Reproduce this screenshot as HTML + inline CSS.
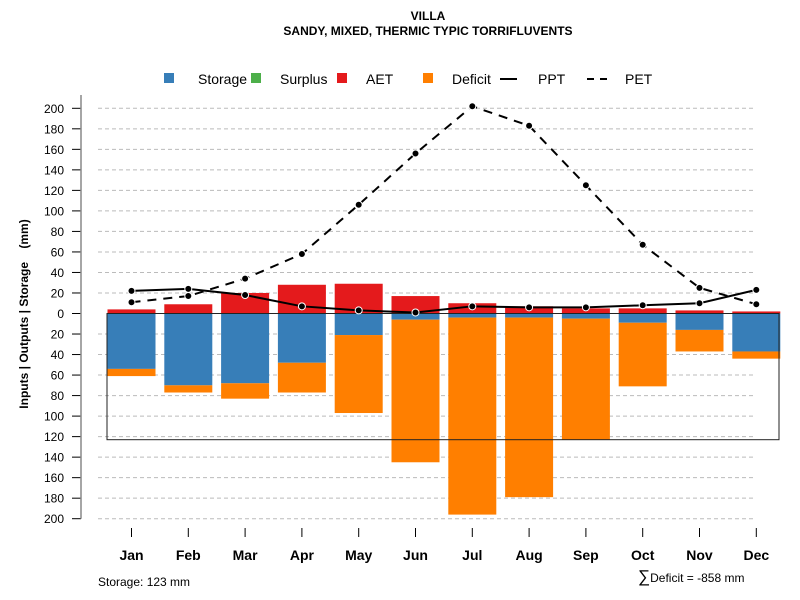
<!DOCTYPE html>
<html><head><meta charset="utf-8"><style>
html,body{margin:0;padding:0;background:#fff;}
svg{display:block;font-family:"Liberation Sans",Arial,sans-serif;}
</style></head><body>
<svg id="chart" width="800" height="600" viewBox="0 0 800 600">
<text x="428" y="20" text-anchor="middle" font-size="12" font-weight="bold">VILLA</text>
<text x="428" y="35" text-anchor="middle" font-size="12" font-weight="bold">SANDY, MIXED, THERMIC TYPIC TORRIFLUVENTS</text>
<g font-size="14">
<g><rect x="164" y="73" width="10" height="10" fill="#377eb8"/><text x="198" y="84">Storage</text></g>
<g><rect x="251" y="73" width="10" height="10" fill="#4daf4a"/><text x="280" y="84">Surplus</text></g>
<g><rect x="337" y="73" width="10" height="10" fill="#e41a1c"/><text x="366" y="84">AET</text></g>
<g><rect x="423" y="73" width="10" height="10" fill="#ff7f00"/><text x="452" y="84">Deficit</text></g>
<g><line x1="500" y1="79" x2="517" y2="79" stroke="#000" stroke-width="2"/><text x="538" y="84">PPT</text></g>
<g><line x1="587" y1="79" x2="609" y2="79" stroke="#000" stroke-width="2" stroke-dasharray="7,6"/><text x="625" y="84">PET</text></g>
</g>
<text transform="translate(28,314) rotate(-90)" text-anchor="middle" font-size="12" font-weight="bold" style="white-space:pre" xml:space="preserve">Inputs | Outputs | Storage    (mm)</text>
<g id="grid"></g><g id="bars"></g><g id="lines"></g><g id="axes"></g>
<text x="98" y="586" font-size="12">Storage: 123 mm</text>
<text x="638" y="582" font-size="12"><tspan font-size="17">∑</tspan>Deficit = -858 mm</text>
</svg>
<script>
const months=["Jan","Feb","Mar","Apr","May","Jun","Jul","Aug","Sep","Oct","Nov","Dec"];
const aet=[4,9,20,28,29,17,10,7,5,5,3,2];
const storage=[54,70,68,48,21,6,4,4,5,9,16,37];
const deficit=[7,7,15,29,76,139,192,175,118,62,21,7];
const surplus=[0,0,0,0,0,0,0,0,0,0,0,0];
const ppt=[22,24,18,7,3,1,7,6,6,8,10,23];
const pet=[11,17,34,58,106,156,202,183,125,67,25,9];
const yTicks=[200,180,160,140,120,100,80,60,40,20,0,-20,-40,-60,-80,-100,-120,-140,-160,-180,-200];
const yTickLabels=["200","180","160","140","120","100","80","60","40","20","0","20","40","60","80","100","120","140","160","180","200"];
const storageCap=123;
const NS="http://www.w3.org/2000/svg";
function y(v){return 313.5-v*1.026;}
function x(i){return 131.5+i*56.8;}
function mk(tag,attrs,parent){const e=document.createElementNS(NS,tag);for(const k in attrs)e.setAttribute(k,attrs[k]);document.getElementById(parent).appendChild(e);return e;}
yTicks.forEach((t,i)=>{
 if(t!==0){const g=mk('line',{x1:98,x2:756,y1:y(t),y2:y(t),stroke:'#bbb','stroke-dasharray':'4,3'},'grid');
 
 }
 const tk=mk('line',{x1:72,x2:81,y1:y(t),y2:y(t),stroke:'#000'},'axes');
 
 
 const tl=mk('text',{x:64,y:y(t)+4.5,'text-anchor':'end','font-size':12},'axes');tl.textContent=yTickLabels[i];
 
 
});
const ax=mk('line',{x1:81,x2:81,y1:95,y2:y(-200),stroke:'#888','stroke-width':1.5},'axes');


const bw=48;
months.forEach((m,i)=>{
 const cx=x(i);
 const a=mk('rect',{x:cx-bw/2,y:y(aet[i]),width:bw,height:aet[i]*1.026,fill:'#e41a1c'},'bars');
 
 
 const s=mk('rect',{x:cx-bw/2,y:y(0),width:bw,height:storage[i]*1.026,fill:'#377eb8'},'bars');
 
 
 const d=mk('rect',{x:cx-bw/2,y:y(-storage[i]),width:bw,height:deficit[i]*1.026,fill:'#ff7f00'},'bars');
 
 
 const tk=mk('line',{x1:cx,x2:cx,y1:528,y2:537,stroke:'#000'},'axes');
 
 
 const tl=mk('text',{x:cx,y:560,'text-anchor':'middle','font-size':14,'font-weight':'bold'},'axes');tl.textContent=m;
 
 
});
const zl=mk('line',{x1:107,x2:779,y1:y(0),y2:y(0),stroke:'#000'},'bars');


const box=mk('rect',{x:107,y:y(0),width:672,height:storageCap*1.026,fill:'none',stroke:'#222'},'bars');


const pp=mk('polyline',{points:ppt.map((v,i)=>x(i)+','+y(v)).join(' '),fill:'none',stroke:'#000','stroke-width':2},'lines');


const pe=mk('polyline',{points:pet.map((v,i)=>x(i)+','+y(v)).join(' '),fill:'none',stroke:'#000','stroke-width':2,'stroke-dasharray':'9,7'},'lines');


months.forEach((m,i)=>{
 const c1=mk('circle',{cx:x(i),cy:y(ppt[i]),r:3.5,fill:'#000',stroke:'#fff','stroke-width':1},'lines');
 
 
 const c2=mk('circle',{cx:x(i),cy:y(pet[i]),r:3.5,fill:'#000',stroke:'#fff','stroke-width':1},'lines');
 
 
});
</script>
</body></html>
